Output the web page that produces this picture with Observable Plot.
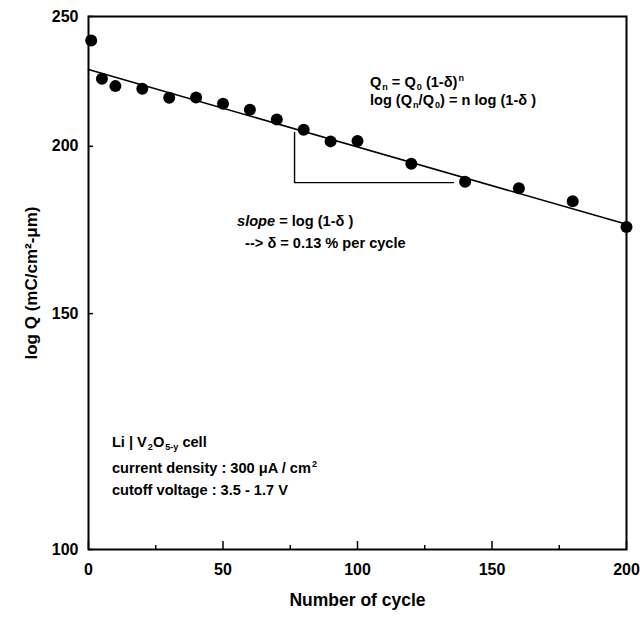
<!DOCTYPE html>
<html>
<head>
<meta charset="utf-8">
<script src="https://cdn.jsdelivr.net/npm/d3@7"></script>
<script src="https://cdn.jsdelivr.net/npm/@observablehq/plot@0.6"></script>
<style>
  html, body { margin: 0; padding: 0; background: #fff; }
  svg { font-family: "Liberation Sans", Arial, sans-serif; }
</style>
</head>
<body>
<div id="chart"></div>
<script>
// Measured data: cycle number vs capacity Q (mC/cm²-µm)
const cycles = [1, 5, 10, 20, 30, 40, 50, 60, 70, 80, 90, 100, 120, 140, 160, 180, 200];
const charge = [239.9, 224.6, 221.8, 220.8, 217.4, 217.5, 215.2, 213.0, 209.4, 205.8, 201.7, 201.8, 194.1, 188.2, 186.1, 182.0, 174.1];

// Fitted line (log-linear)
const fitCycles = [0, 200];
const fitCharge = [228.2, 174.9];

// Slope triangle (L-shape)
const triCycles = [76.6, 76.6, 135.7];
const triCharge = [204.8, 187.9, 187.9];

// Axis ticks
const yTicks = [100, 150, 200, 250];
const xMajorTicks = [0, 50, 100, 150, 200];
const xMinorTicks = [25, 75, 125, 175];

const points = cycles.map((c, i) => ({c, q: charge[i]}));
const fit = fitCycles.map((c, i) => ({c, q: fitCharge[i]}));
const tri = triCycles.map((c, i) => ({c, q: triCharge[i]}));

const W = 640, H = 621, ML = 88, MR = 14, MT = 16, MB = 72;
const FW = W - ML - MR, FH = H - MT - MB;
const FS = 16;

const plot = Plot.plot({
  width: W,
  height: H,
  marginLeft: ML,
  marginRight: MR,
  marginTop: MT,
  marginBottom: MB,
  style: {fontFamily: '"Liberation Sans", Arial, sans-serif', background: "#fff", color: "#000"},
  x: {domain: [0, 200]},
  y: {type: "log", domain: [100, 250]},
  marks: [
    Plot.frame({stroke: "#000", strokeWidth: 2}),
    // inward ticks
    Plot.tickY(yTicks, {y: d => d, insetRight: FW - 5, stroke: "#000", strokeWidth: 1.5}),
    Plot.tickX(xMajorTicks, {x: d => d, insetTop: FH - 8, stroke: "#000", strokeWidth: 1.5}),
    Plot.tickX(xMinorTicks, {x: d => d, insetTop: FH - 4, stroke: "#000", strokeWidth: 1.5}),
    // tick labels
    Plot.axisY(yTicks, {tickSize: 0, tickPadding: 10, label: null, tickFormat: d => String(d), fontSize: FS, fontWeight: "bold", fill: "#000"}),
    Plot.axisX(xMajorTicks, {tickSize: 0, tickPadding: 14, label: null, tickFormat: d => String(d), fontSize: FS, fontWeight: "bold", fill: "#000"}),
    // axis titles
    Plot.text(["log Q (mC/cm²-μm)"], {frameAnchor: "left", textAnchor: "middle", dx: -57, rotate: -90, fontSize: 17, fontWeight: "bold", fill: "#000"}),
    Plot.text(["Number of cycle"], {frameAnchor: "bottom", textAnchor: "middle", dy: 56, fontSize: 17.5, fontWeight: "bold", fill: "#000"}),
    // fit line and triangle
    Plot.line(fit, {x: "c", y: "q", stroke: "#000", strokeWidth: 1.6}),
    Plot.line(tri, {x: "c", y: "q", stroke: "#000", strokeWidth: 1.4}),
    // data points
    Plot.dot(points, {x: "c", y: "q", r: 6, fill: "#000", stroke: "none"})
  ]
});

document.getElementById("chart").appendChild(plot);

// Rich-text annotations (subscripts / superscripts / italics), placed through the plot's scales
const sx = plot.scale("x"), sy = plot.scale("y");
const svg = d3.select(plot);
function rich(xv, yv, parts, size = 14.6) {
  const t = svg.append("text")
    .attr("x", sx.apply(xv)).attr("y", sy.apply(yv))
    .attr("text-anchor", "start")
    .attr("font-size", size).attr("font-weight", "bold").attr("fill", "#000");
  for (const [s, kind] of parts) {
    const sp = t.append("tspan").text(s);
    if (kind === "sub") sp.attr("font-size", size * 0.62).attr("baseline-shift", "-35%").attr("dx", 1);
    else if (kind === "sup") sp.attr("font-size", size * 0.62).attr("baseline-shift", "70%").attr("dx", 1);
    else if (kind === "it") sp.attr("font-style", "italic");
  }
}
rich(104.8, 221.3, [["Q"], ["n", "sub"], [" = Q"], ["0", "sub"], [" (1-δ)"], ["n", "sup"]]);
rich(104.8, 214.5, [["log (Q"], ["n", "sub"], ["/Q"], ["0", "sub"], [") = n log (1-δ )"]]);
rich(55.4, 174.2, [["slope", "it"], [" = log (1-δ )"]]);
rich(58.4, 167.8, [["--> δ = 0.13 % per cycle"]]);
rich(8.9, 119.2, [["Li | V"], ["2", "sub"], ["O"], ["5-y", "sub"], [" cell"]]);
rich(8.9, 114.0, [["current density : 300 μA / cm"], ["2", "sup"]]);
rich(8.9, 109.7, [["cutoff voltage : 3.5 - 1.7 V"]]);
</script>
</body>
</html>
